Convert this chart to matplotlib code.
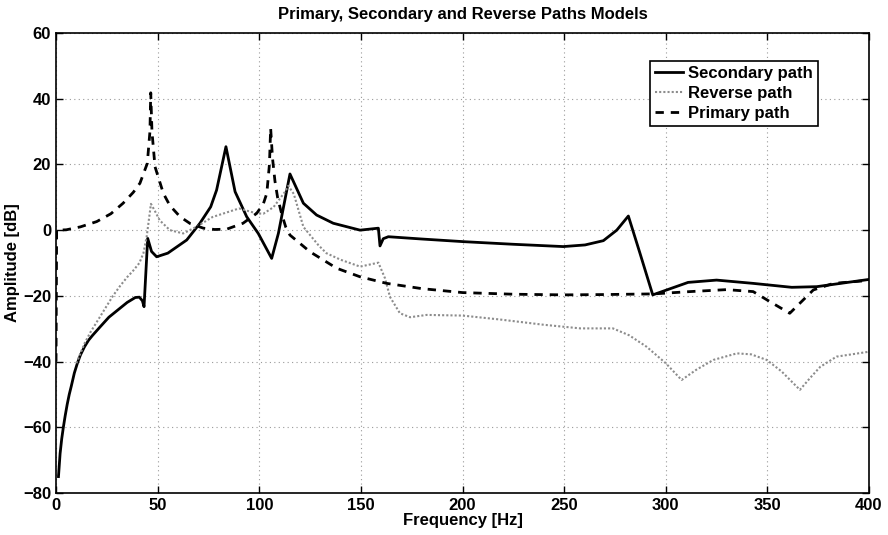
import matplotlib
matplotlib.use("Agg")
import matplotlib.pyplot as plt

plt.rcParams['font.family'] = ['Liberation Sans', 'DejaVu Sans']
plt.rcParams['font.weight'] = 'bold'

# Secondary path (solid)
sec_f = [1.2, 2, 2.8, 3.6, 4.5, 5.5, 6.5, 7.5, 9, 10.5, 12, 14, 16, 18, 21.6, 26, 30, 35, 39, 41,
         42.5, 43.3, 45.1, 47, 49.5, 55,
         64.3, 70.8, 76.1, 79, 83.6, 88.1, 93.8, 99.5, 106.1, 109.4, 115.1, 121.7, 128.2,
         136.4, 149.6, 158.6, 159.4, 161, 163.5, 180, 200.4, 225, 249.6, 260.3, 269.3, 275.9, 281.6,
         287.3, 293.6, 311, 325, 343, 362, 374.3, 400]
sec_db = [-75, -68, -63.5, -60, -56.5, -53, -50, -47.5, -43.5, -40.5, -38, -35.5, -33.5, -32, -29.5,
          -26.5, -24.5, -22, -20.5, -20.4,
          -21.5, -23.3, -2.5, -6.5, -8.1, -7,
          -3, 2.1, 7.1, 12.2, 25.4, 11.7, 4.1, -1, -8.6, -1, 17.1, 8.2, 4.6,
          2.1, 0.0, 0.6, -4.8, -2.6, -2, -2.7, -3.5, -4.3, -5, -4.5, -3.2, 0.0, 4.3,
          -7, -19.7, -15.9, -15.2, -16.2, -17.4, -17.2, -15]

# Reverse path (dotted)
rev_f = [10, 12, 14, 17, 20, 24, 28, 31.5, 35, 38, 41, 43, 44.6, 46.7, 48.5, 51, 56, 62.6, 69, 77, 90,
         98.7, 102, 107, 112.7, 114.3, 117, 121.7, 125, 129, 133, 140, 149.6, 158.6, 161.9, 164.3,
         169.2, 174.2, 182.4, 200, 218.5, 240, 258, 274, 282, 290.6, 300, 307.8, 315, 323.4, 335,
         342, 349.7, 357, 366, 371, 376, 384, 400]
rev_db = [-40.5, -37.5, -34.5, -31, -28, -24, -20, -17, -14.3, -12.3, -10, -7, -2, 8, 6, 3, 0, -1, 1, 4, 6.6,
          5.1, 5, 7, 11.7, 13.5, 11, 1, -1.5, -4.5, -7, -9, -11.1, -9.9, -14.7, -20.3,
          -25.3, -26.5, -25.8, -26, -27.2, -28.8, -29.9, -29.9, -32, -35.5, -40.5, -45.6, -42.5, -39.5, -37.5,
          -37.8, -39.5, -43, -48.6, -45, -41.6, -38.5, -37]

# Primary path (dashed)
pri_f = [0, 0.3, 5, 12, 20, 27, 33, 38, 41.3, 44.9, 46.2, 46.6, 47.2, 48.7, 52.8, 56, 61, 66,
         72.5, 78, 84, 92, 98.7, 102, 103.7, 105, 105.6, 106.5, 107.7, 109, 111, 113, 115.1,
         125, 138.1, 149.6, 162.7, 180, 200, 225, 250, 270, 294, 312, 330, 343, 350, 361,
         372.6, 382.5, 400]
pri_db = [-40, 0, 0.1, 1, 2.6, 5, 8.2, 11.5, 14.3, 20.3, 30, 41.8, 30, 19.3, 11.2, 7.5, 4.1, 2,
          0.6, 0.2, 0.3, 2.1, 5.1, 8, 11.2, 20, 31, 22, 15, 10, 5, 1, -1.5,
          -6.6, -11.6, -14.2, -16.2, -17.8, -19, -19.5, -19.7, -19.6, -19.4, -18.7, -18.1, -18.7, -21.3, -25.3,
          -18.2, -16.2, -15.3]

xticks = [0, 50, 100, 150, 200, 250, 300, 350, 400]
yticks = [-80, -60, -40, -20, 0, 20, 40, 60]

fig = plt.figure(figsize=(8.88, 5.35), dpi=100)
ax = fig.add_axes([0.0631, 0.0785, 0.9155, 0.8598])

ax.plot(sec_f, sec_db, color='black', lw=2.0, ls='-', label='Secondary path')
ax.plot(rev_f, rev_db, color='#8c8c8c', lw=1.5, ls=(0, (1, 1)), label='Reverse path')
ax.plot(pri_f, pri_db, color='black', lw=2.0, ls=(0, (3, 2.5)), label='Primary path')

ax.set_xlim(0, 400)
ax.set_ylim(-80, 60)
ax.set_xticks(xticks)
ax.set_yticks(yticks)
ax.tick_params(direction='in', top=True, right=True, labelsize=12, length=5, width=1)
for lab in ax.get_xticklabels() + ax.get_yticklabels():
    lab.set_fontweight('bold')
ax.grid(True, color='#9a9a9a', ls=(0, (1, 3)), lw=0.8)
for s in ax.spines.values():
    s.set_linewidth(1.2)

ax.set_xlabel('Frequency [Hz]', fontsize=12, fontweight='bold', labelpad=0)
ax.set_ylabel('Amplitude [dB]', fontsize=12, fontweight='bold', labelpad=2)
ax.set_title('Primary, Secondary and Reverse Paths Models', fontsize=12, fontweight='bold', pad=10)

leg = ax.legend(loc='upper right', bbox_to_anchor=(0.937, 0.939), fontsize=12,
                frameon=True, fancybox=False, framealpha=1, edgecolor='black',
                handlelength=1.7, handletextpad=0.3, borderpad=0.3, labelspacing=0.3,
                borderaxespad=0)
leg.get_frame().set_linewidth(1.2)
for t in leg.get_texts():
    t.set_fontweight('bold')

fig.savefig('out.png', dpi=100)
